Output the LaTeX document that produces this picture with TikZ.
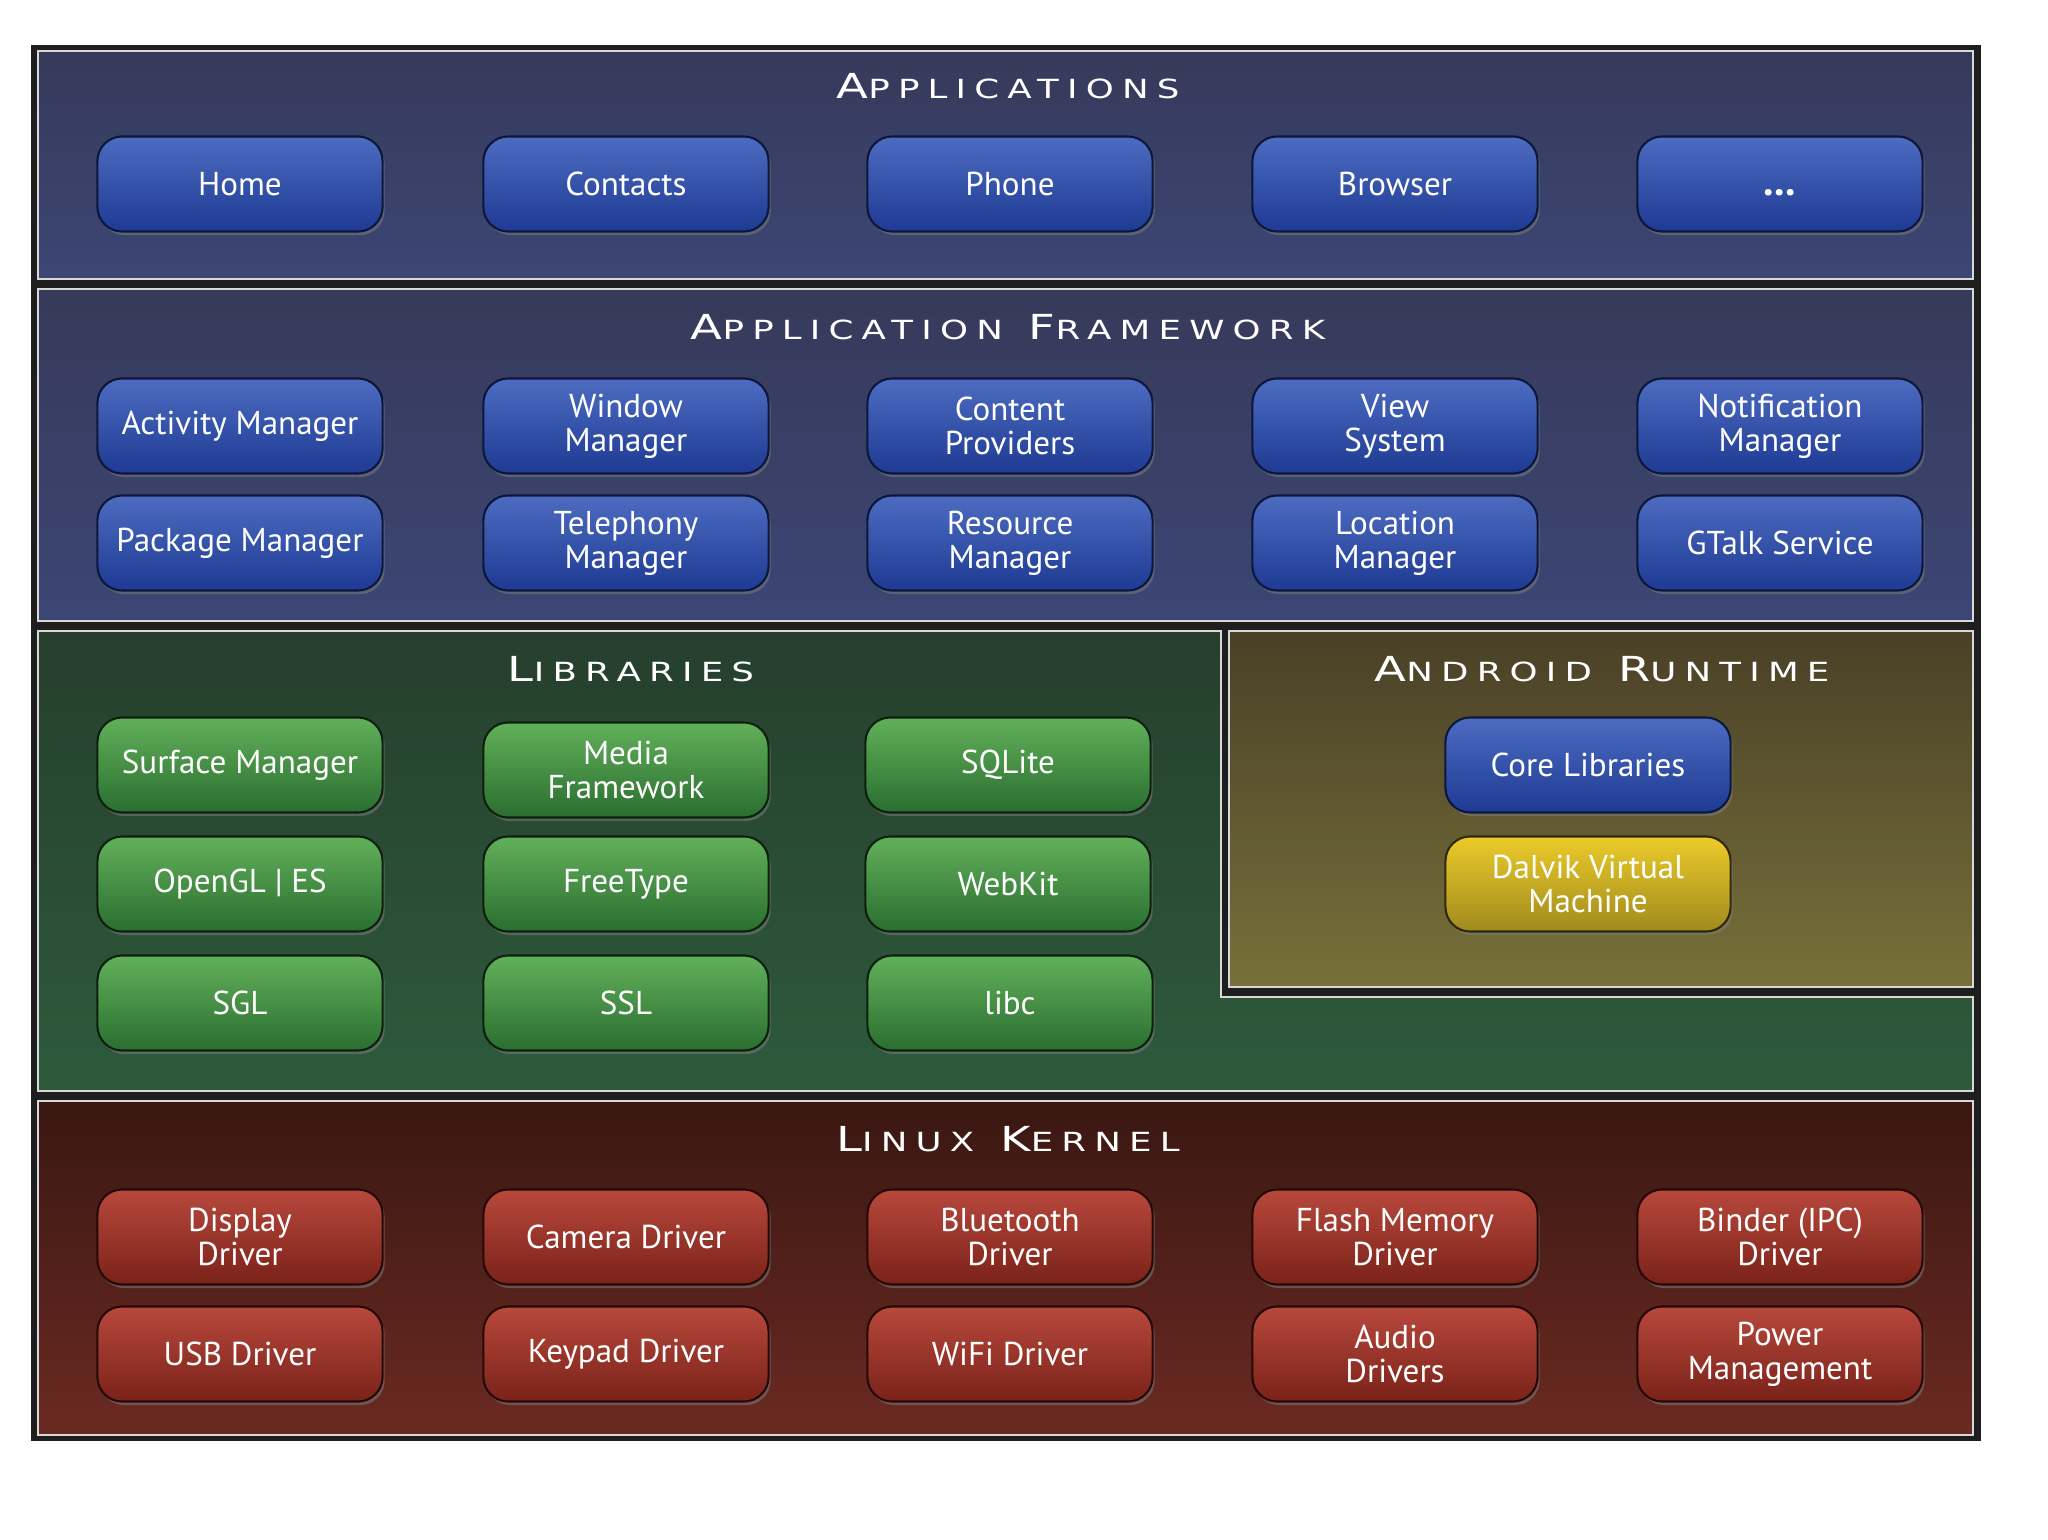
\documentclass[tikz,border=0pt]{standalone}
\usepackage{fontspec}
\setmainfont{PT Sans}
\newfontfamily\fonttitulo[LetterSpace=31,FakeStretch=1.35]{DejaVu Sans}
\usetikzlibrary{shadows}

\definecolor{moldura}{HTML}{1E1E1E}
\definecolor{borda}{HTML}{D8D8D8}
\definecolor{appsTopo}{HTML}{363A5A}
\definecolor{appsBase}{HTML}{3C4674}
\definecolor{libsTopo}{HTML}{253F2C}
\definecolor{libsBase}{HTML}{2E5A3C}
\definecolor{runTopo}{HTML}{4A4027}
\definecolor{runBase}{HTML}{77703A}
\definecolor{kernTopo}{HTML}{3A1712}
\definecolor{kernBase}{HTML}{6A2A22}
\definecolor{azulTopo}{HTML}{4D6CC0}
\definecolor{azulBase}{HTML}{1E3A94}
\definecolor{verdeTopo}{HTML}{62B05A}
\definecolor{verdeBase}{HTML}{2A6E30}
\definecolor{amareloTopo}{HTML}{ECCB2A}
\definecolor{amareloBase}{HTML}{A08A1E}
\definecolor{vermelhoTopo}{HTML}{B8483C}
\definecolor{vermelhoBase}{HTML}{7A2219}

\newcommand\versalete[2]{{\fontsize{9.8}{10}\selectfont #1}{\fontsize{7.5}{10}\selectfont #2}}

\tikzset{
	botao/.style={rounded corners=7pt, minimum width=2.85cm, minimum height=0.95cm,
		inner sep=0pt, align=center, text=white, line width=.6pt,
		font=\fontsize{9.4}{9.7}\selectfont,
		drop shadow={opacity=.5, shadow xshift=.6pt, shadow yshift=-1pt}},
	azul/.style={botao, top color=azulTopo, bottom color=azulBase, draw=azulBase!40!black},
	verde/.style={botao, top color=verdeTopo, bottom color=verdeBase, draw=verdeBase!30!black},
	amarelo/.style={botao, top color=amareloTopo, bottom color=amareloBase, draw=amareloBase!30!black},
	vermelho/.style={botao, top color=vermelhoTopo, bottom color=vermelhoBase, draw=vermelhoBase!30!black},
	titulo/.style={text=white, font=\fonttitulo, inner sep=0pt},
	painel/.style={draw=borda, line width=.8pt}
}

\begin{document}
\begin{tikzpicture}[x=0.01cm, y=-0.01cm]
	
	\fill[white] (0,0) rectangle (2048,1539);
	\useasboundingbox (0,0) rectangle (2048,1539);
	
	% A moldura escura
	\fill[moldura] (31,45) rectangle (1981,1441);
	
	% Os painéis das camadas
	\shadedraw[painel, top color=appsTopo, bottom color=appsBase] (38,51) rectangle (1973,279);
	\shadedraw[painel, top color=appsTopo, bottom color=appsBase] (38,289) rectangle (1973,621);
	\shadedraw[painel, top color=libsTopo, bottom color=libsBase]
		(38,631) -- (1221,631) -- (1221,997) -- (1973,997) -- (1973,1091) -- (38,1091) -- cycle;
	\shadedraw[painel, top color=runTopo, bottom color=runBase] (1229,631) rectangle (1973,987);
	\shadedraw[painel, top color=kernTopo, bottom color=kernBase] (38,1101) rectangle (1973,1435);
	
	% Os títulos
	\node[titulo] (tApps) at (1008,86) {\versalete{A}{PPLICATIONS}};
	\node[titulo] (tFrame) at (1008,327) {\versalete{A}{PPLICATION} \versalete{F}{RAMEWORK}};
	\node[titulo] (tLibs) at (631,669) {\versalete{L}{IBRARIES}};
	\node[titulo] (tRun) at (1602,669) {\versalete{A}{NDROID} \versalete{R}{UNTIME}};
	\node[titulo] (tKern) at (1008,1139) {\versalete{L}{INUX} \versalete{K}{ERNEL}};
	
	% Aplicações
	\node[azul] (home) at (240,184) {Home};
	\node[azul] (contacts) at (626,184) {Contacts};
	\node[azul] (phone) at (1010,184) {Phone};
	\node[azul] (browser) at (1395,184) {Browser};
	\node[azul] (more) at (1780,184) {\vphantom{H}{\fontsize{12}{12}\selectfont\textbf{...}}};
	
	% Framework de aplicação
	\node[azul] (activity) at (240,426) {Activity Manager};
	\node[azul] (window) at (626,426) {Window\\Manager};
	\node[azul] (content) at (1010,426) {Content\\Providers};
	\node[azul] (view) at (1395,426) {View\\System};
	\node[azul] (notification) at (1780,426) {Notification\\Manager};
	\node[azul] (package) at (240,543) {Package Manager};
	\node[azul] (telephony) at (626,543) {Telephony\\Manager};
	\node[azul] (resource) at (1010,543) {Resource\\Manager};
	\node[azul] (location) at (1395,543) {Location\\Manager};
	\node[azul] (gtalk) at (1780,543) {GTalk Service};
	
	% Bibliotecas
	\node[verde] (surface) at (240,765) {Surface Manager};
	\node[verde] (media) at (626,770) {Media\\Framework};
	\node[verde] (sqlite) at (1008,765) {SQLite};
	\node[verde] (opengl) at (240,884) {OpenGL | ES};
	\node[verde] (freetype) at (626,884) {FreeType};
	\node[verde] (webkit) at (1008,884) {WebKit};
	\node[verde] (sgl) at (240,1003) {SGL};
	\node[verde] (ssl) at (626,1003) {SSL};
	\node[verde] (libc) at (1010,1003) {libc};
	
	% O runtime
	\node[azul] (core) at (1588,765) {Core Libraries};
	\node[amarelo] (dalvik) at (1588,884) {Dalvik Virtual\\Machine};
	
	% O kernel
	\node[vermelho] (display) at (240,1237) {Display\\Driver};
	\node[vermelho] (camera) at (626,1237) {Camera Driver};
	\node[vermelho] (bluetooth) at (1010,1237) {Bluetooth\\Driver};
	\node[vermelho] (flash) at (1395,1237) {Flash Memory\\Driver};
	\node[vermelho] (binder) at (1780,1237) {Binder (IPC)\\Driver};
	\node[vermelho] (usb) at (240,1354) {USB Driver};
	\node[vermelho] (keypad) at (626,1354) {Keypad Driver};
	\node[vermelho] (wifi) at (1010,1354) {WiFi Driver};
	\node[vermelho] (audio) at (1395,1354) {Audio\\Drivers};
	\node[vermelho] (power) at (1780,1354) {Power\\Management};
	
\end{tikzpicture}
\end{document}
